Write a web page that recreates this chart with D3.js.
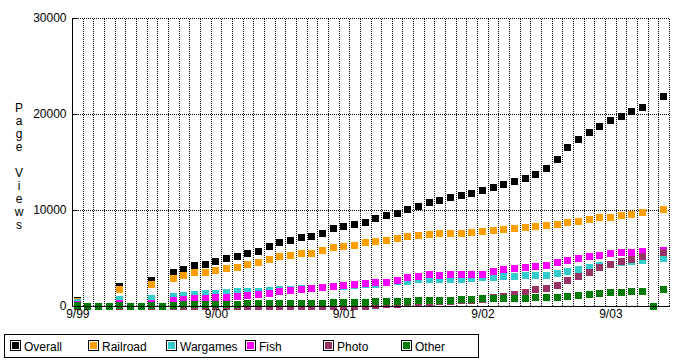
<!DOCTYPE html>
<html><head><meta charset="utf-8">
<script src="https://cdn.jsdelivr.net/npm/d3@7"></script>
<style>
html,body{margin:0;padding:0;background:#fff;}
svg{display:block;font-family:"Liberation Sans",Arial,Helvetica,sans-serif;}
</style></head>
<body><svg id="c" width="680" height="361"></svg>
<script>
// ---- data (monthly, index 0 = 9/99) ----
const months = d3.range(56);
const xTickMonths = [0, 13, 25, 38, 50];
const xTickLabels = ["9/99", "9/00", "9/01", "9/02", "9/03"];
const yTicks = [0, 10000, 20000, 30000];
const seriesNames = ["Overall", "Railroad", "Wargames", "Fish", "Photo", "Other"];
const N = null;
const overall = [540,N,N,N,2060,N,N,2660,N,3460,3800,4220,4320,4600,4950,5190,5470,5650,6170,6580,6790,7100,7210,7550,8040,8250,8460,8670,9080,9430,9600,10050,10330,10750,10960,11300,11510,11720,12030,12340,12660,12970,13230,13750,14320,15260,16510,17340,18070,18730,19320,19770,20290,20710,N,21790];
const railroad = [470,N,N,N,1720,N,N,2270,N,2860,3180,3460,3520,3730,3910,4010,4350,4530,4840,5190,5260,5470,5470,5780,6090,6230,6330,6610,6750,6820,7060,7270,7380,7480,7550,7580,7580,7660,7760,7860,7970,8070,8180,8280,8390,8540,8700,8850,9010,9170,9270,9430,9530,9690,N,10050];
const wargames = [330,N,N,N,710,N,N,780,N,990,1090,1200,1300,1300,1410,1510,1510,1530,1650,1750,1750,1800,1850,1930,2000,2060,2100,2190,2240,2450,2520,2580,2730,2730,2790,2790,2790,2880,2970,2970,3050,3120,3200,3200,3200,3400,3580,3820,4030,4220,4350,4500,4640,4740,N,4970];
const fish = [160,N,N,N,260,N,N,260,N,570,680,730,830,890,890,990,1090,1170,1350,1460,1610,1720,1790,1930,2000,2140,2240,2340,2480,2450,2620,2970,3100,3250,3180,3230,3230,3300,3310,3560,3800,3910,4010,4080,4250,4530,4770,4950,5120,5290,5470,5570,5570,5630,N,5830];
const photo = [0,N,N,N,0,N,N,0,N,0,0,0,0,0,0,0,0,0,0,0,0,0,0,0,0,0,0,0,80,120,180,250,330,400,450,500,560,625,700,860,970,1220,1390,1670,1840,2120,2640,3090,3510,4000,4350,4600,4820,5170,N,5570];
const other = [30,0,0,0,80,0,0,80,0,100,150,150,150,150,150,190,250,250,250,250,250,300,300,300,400,400,400,400,500,500,500,500,600,600,600,600,680,680,780,780,780,780,810,870,870,890,1020,1090,1200,1300,1370,1440,1510,1510,0,1720];
const seriesValues = [overall, railroad, wargames, fish, photo, other];
const seriesColors = ["#000000", "#ffa000", "#33cccc", "#ff00ff", "#993366", "url(#pg)"];

// ---- layout ----
const svg = d3.select("#c");
const L = 72, R = 669, T = 18, B = 306;
const x = d3.scaleLinear().domain([0, 56]).range([L, R]);
const y = d3.scaleLinear().domain([0, 30000]).range([B, T]);

const defs = svg.append("defs");
const pat = defs.append("pattern").attr("id", "pg").attr("width", 2).attr("height", 2).attr("patternUnits", "userSpaceOnUse");
pat.append("rect").attr("width", 2).attr("height", 2).attr("fill", "#00a000");
pat.append("rect").attr("width", 1).attr("height", 1).attr("fill", "#005500");
pat.append("rect").attr("x", 1).attr("y", 1).attr("width", 1).attr("height", 1).attr("fill", "#005500");

const dash = "1,1";
// vertical grid
const vg = svg.append("g").attr("transform", `translate(0.5,${B})`)
  .call(d3.axisBottom(x).tickValues(d3.range(1, 57)).tickSize(-(B - T)).tickFormat(""));
vg.select(".domain").remove();
vg.selectAll(".tick").attr("transform", d => `translate(${Math.round(x(d))},0)`);
vg.selectAll(".tick line").attr("stroke", "#000").attr("stroke-dasharray", dash).attr("shape-rendering", "crispEdges");
// horizontal grid
const hg = svg.append("g").attr("transform", `translate(${L},0.5)`)
  .call(d3.axisLeft(y).tickValues(yTicks.slice(1)).tickSize(-(R - L)).tickFormat(""));
hg.select(".domain").remove();
hg.selectAll(".tick").attr("transform", d => `translate(0,${Math.round(y(d))})`);
hg.selectAll(".tick line").attr("stroke", "#000").attr("stroke-dasharray", dash).attr("shape-rendering", "crispEdges");

// points
const sz = 7;
seriesValues.forEach((vals, si) => {
  const g = svg.append("g");
  g.selectAll("rect").data(months.filter(i => vals[i] !== null)).join("rect")
    .attr("x", i => Math.round(x(i + 0.5) - sz / 2))
    .attr("y", i => Math.round(y(vals[i]) - sz / 2))
    .attr("width", sz).attr("height", sz)
    .attr("fill", seriesColors[si])
    .attr("shape-rendering", "crispEdges");
});

// axes (solid)
svg.append("line").attr("x1", L + 0.5).attr("x2", L + 0.5).attr("y1", T).attr("y2", B + 1).attr("stroke", "#000");
svg.append("line").attr("x1", L).attr("x2", R + 1).attr("y1", B + 0.5).attr("y2", B + 0.5).attr("stroke", "#000");

// y axis ticks + labels
const ya = svg.append("g").attr("transform", `translate(${L + 0.5},0.5)`)
  .call(d3.axisLeft(y).tickValues(yTicks).tickSize(-5).tickPadding(6).tickFormat(d3.format("d")));
ya.select(".domain").remove();
ya.selectAll(".tick").attr("transform", d => `translate(0,${Math.round(y(d))})`);
ya.selectAll(".tick line").attr("stroke", "#000");
ya.selectAll(".tick text").attr("font-size", 12).attr("fill", "#000").attr("font-family", "Liberation Sans, Arial, sans-serif");

// x labels
const xa = svg.append("g").attr("transform", `translate(0,${B})`)
  .call(d3.axisBottom(x).tickValues(xTickMonths.map(m => m + 0.5)).tickSize(0).tickPadding(3)
    .tickFormat((d, i) => xTickLabels[i]));
xa.select(".domain").remove();
xa.selectAll(".tick text").attr("font-size", 12).attr("fill", "#000").attr("font-family", "Liberation Sans, Arial, sans-serif");

// y label, stacked letters
const ylab = "Page Views";
const yt = svg.append("text").attr("font-size", 12).attr("text-anchor", "middle");
ylab.split("").forEach((ch, k) => {
  yt.append("tspan").attr("x", 19).attr("y", 112 + k * 13).text(ch === " " ? "\u00a0" : ch);
});

// legend
svg.append("rect").attr("x", 4.5).attr("y", 334.5).attr("width", 474).attr("height", 23)
  .attr("fill", "none").attr("stroke", "#000");
seriesNames.forEach((name, k) => {
  const lx = Math.round(10 + k * 78.2);
  const g = svg.append("g");
  g.append("rect").attr("x", lx + 0.5).attr("y", 340.5).attr("width", 10).attr("height", 10)
    .attr("fill", "none").attr("stroke", "#000");
  g.append("rect").attr("x", lx + 2).attr("y", 342).attr("width", 7).attr("height", 7)
    .attr("fill", seriesColors[k]).attr("shape-rendering", "crispEdges");
  g.append("text").attr("x", lx + 14).attr("y", 351).attr("font-size", 12).attr("fill", "#000").text(name);
});
</script></body></html>
